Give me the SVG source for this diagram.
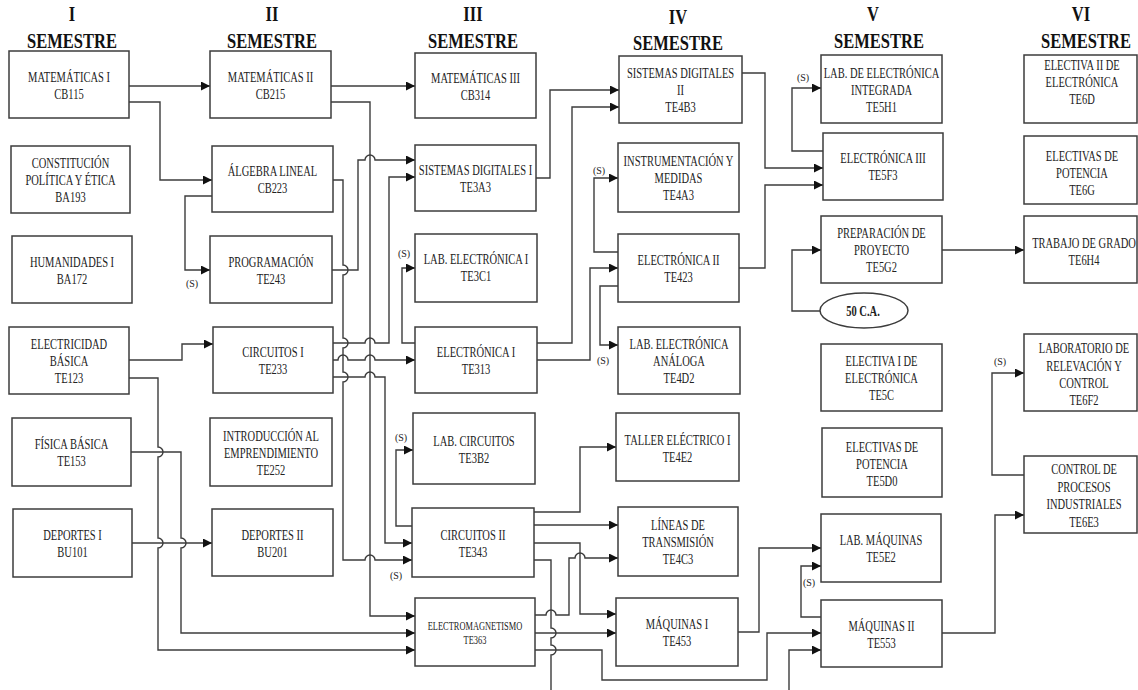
<svg xmlns="http://www.w3.org/2000/svg" width="1138" height="690" viewBox="0 0 1138 690">
<style>
.box{fill:#fff;stroke:#3c3c3c;stroke-width:1.5}
.t{font-family:"Liberation Serif","Times New Roman",serif;font-size:14px;fill:#222;text-anchor:middle}
.h{font-size:22px;font-weight:bold;fill:#111}
.sm{font-size:12px}
.b{font-weight:bold}
.s{font-family:"Liberation Serif","Times New Roman",serif;font-size:10px;fill:#222;text-anchor:middle}
.c{fill:none;stroke:#3c3c3c;stroke-width:1.4}
.a{marker-end:url(#ar)}
</style>
<defs>
<marker id="ar" markerWidth="9" markerHeight="9" refX="9" refY="4.5" orient="auto" markerUnits="userSpaceOnUse"><path d="M0,0 L9,4.5 L0,9 z" fill="#111"/></marker>
</defs>
<rect width="1138" height="690" fill="#fff"/>

<g id="headers" class="t h">
<g transform="translate(72,0) scale(0.75,1)"><text x="0" y="21">I</text><text x="0" y="48">SEMESTRE</text></g>
<g transform="translate(272,0) scale(0.75,1)"><text x="0" y="21">II</text><text x="0" y="48">SEMESTRE</text></g>
<g transform="translate(473,0) scale(0.75,1)"><text x="0" y="21">III</text><text x="0" y="48">SEMESTRE</text></g>
<g transform="translate(678,0) scale(0.75,1)"><text x="0" y="24">IV</text><text x="0" y="50">SEMESTRE</text></g>
<g transform="translate(873,0) scale(0.75,1)"><text x="0" y="21">V</text></g>
<g transform="translate(879,0) scale(0.75,1)"><text x="0" y="48">SEMESTRE</text></g>
<g transform="translate(1081,0) scale(0.75,1)"><text x="0" y="21">VI</text></g>
<g transform="translate(1086,0) scale(0.75,1)"><text x="0" y="48">SEMESTRE</text></g>
</g>

<g id="connectors">
<path class="c a" d="M129,86 H210"/>
<path class="c a" d="M129,102 H160 V180 H212"/>
<path class="c a" d="M212,196 H185 V270 H210"/>
<path class="c a" d="M331,86 H415"/>
<path class="c a" d="M331,102 H370 V616 H415"/>
<path class="c a" d="M333,180 H343 V265 a5,5 0 0 1 0,10 V338 a5,5 0 0 1 0,10 V372 a5,5 0 0 1 0,10 V560 H365 a5,5 0 0 1 10,0 H412"/>
<path class="c a" d="M332,270 H358 V160 H365 a5,5 0 0 1 10,0 H415"/>
<path class="c a" d="M333,343 H365 a5,5 0 0 1 10,0 H389 V177 H415"/>
<path class="c a" d="M333,360 H338 a5,5 0 0 1 10,0 H365 a5,5 0 0 1 10,0 H415"/>
<path class="c a" d="M333,377 H365 a5,5 0 0 1 10,0 H385 V543 H412"/>
<path class="c a" d="M129,360 H182 V344 H213"/>
<path class="c a" d="M129,378 H158 V447 a5,5 0 0 1 0,10 V538 a5,5 0 0 1 0,10 V650 H415"/>
<path class="c a" d="M131,452 H181 V538 a5,5 0 0 1 0,10 V633 H415"/>
<path class="c a" d="M132,543 H212"/>
<path class="c a" d="M415,343 H402 V268 H415"/>
<path class="c a" d="M412,526 H396 V450 H413"/>
<path class="c a" d="M536,178 H550 V90 H619"/>
<path class="c a" d="M537,343 H572 V107 H619"/>
<path class="c a" d="M537,360 H590 V268 H618"/>
<path class="c a" d="M618,252 H594 V178 H618"/>
<path class="c a" d="M618,286 H600 V345 H618"/>
<path class="c a" d="M534,512 H580 V447 H616"/>
<path class="c a" d="M534,525 H618"/>
<path class="c a" d="M534,543 H580 V614 H616"/>
<path class="c" d="M534,560 H551 V628 a5,5 0 0 1 0,10 V645 a5,5 0 0 1 0,10 V690"/>
<path class="c a" d="M535,615 H546 a5,5 0 0 1 10,0 H569 V558 H575 a5,5 0 0 1 10,0 H618"/>
<path class="c a" d="M535,633 H616"/>
<path class="c a" d="M535,650 H602 V680 H767 V633 H821"/>
<path class="c a" d="M742,73 H765 V168 H823"/>
<path class="c a" d="M739,268 H765 V185 H823"/>
<path class="c a" d="M823,151 H792 V88 H821"/>
<path class="c a" d="M820,311 H792 V250 H821"/>
<path class="c a" d="M942,250 H1024"/>
<path class="c a" d="M738,632 H759 V548 H821"/>
<path class="c a" d="M821,617 H801 V566 H821"/>
<path class="c a" d="M789,690 V650 H821"/>
<path class="c a" d="M942,633 H995 V515 H1024"/>
<path class="c a" d="M1024,475 H992 V373 H1024"/>
</g>

<g id="s-labels" class="s">
<text x="192" y="287">(S)</text>
<text x="404" y="257">(S)</text>
<text x="599" y="174">(S)</text>
<text x="603" y="364">(S)</text>
<text x="401" y="441">(S)</text>
<text x="396" y="579">(S)</text>
<text x="803" y="81">(S)</text>
<text x="809" y="586">(S)</text>
<text x="1000" y="365">(S)</text>
</g>

<g id="n-cb115"><rect class="box" x="9" y="51" width="120" height="67"/><g class="t" transform="translate(69,0) scale(0.75,1)"><text x="0" y="82">MATEMÁTICAS I</text><text x="0" y="99">CB115</text></g></g>
<g id="n-ba193"><rect class="box" x="11" y="146" width="119" height="67"/><g class="t" transform="translate(70.5,0) scale(0.75,1)"><text x="0" y="168.5">CONSTITUCIÓN</text><text x="0" y="185.5">POLÍTICA Y ÉTICA</text><text x="0" y="202.5">BA193</text></g></g>
<g id="n-ba172"><rect class="box" x="12" y="236" width="120" height="67"/><g class="t" transform="translate(72,0) scale(0.75,1)"><text x="0" y="267">HUMANIDADES I</text><text x="0" y="284">BA172</text></g></g>
<g id="n-te123"><rect class="box" x="9" y="327" width="120" height="67"/><g class="t" transform="translate(69,0) scale(0.75,1)"><text x="0" y="349.5">ELECTRICIDAD</text><text x="0" y="366.5">BÁSICA</text><text x="0" y="383.5">TE123</text></g></g>
<g id="n-te153"><rect class="box" x="12" y="418" width="119" height="68"/><g class="t" transform="translate(71.5,0) scale(0.75,1)"><text x="0" y="449.5">FÍSICA BÁSICA</text><text x="0" y="466.5">TE153</text></g></g>
<g id="n-bu101"><rect class="box" x="13" y="509" width="119" height="68"/><g class="t" transform="translate(72.5,0) scale(0.75,1)"><text x="0" y="540.5">DEPORTES I</text><text x="0" y="557.5">BU101</text></g></g>

<g id="n-cb215"><rect class="box" x="210" y="51" width="121" height="67"/><g class="t" transform="translate(270.5,0) scale(0.75,1)"><text x="0" y="82">MATEMÁTICAS II</text><text x="0" y="99">CB215</text></g></g>
<g id="n-cb223"><rect class="box" x="212" y="146" width="121" height="66"/><g class="t" transform="translate(272.5,0) scale(0.75,1)"><text x="0" y="176.5">ÁLGEBRA LINEAL</text><text x="0" y="193.5">CB223</text></g></g>
<g id="n-te243"><rect class="box" x="210" y="236" width="122" height="67"/><g class="t" transform="translate(271,0) scale(0.75,1)"><text x="0" y="267">PROGRAMACIÓN</text><text x="0" y="284">TE243</text></g></g>
<g id="n-te233"><rect class="box" x="213" y="327" width="120" height="66"/><g class="t" transform="translate(273,0) scale(0.75,1)"><text x="0" y="357.5">CIRCUITOS I</text><text x="0" y="374.5">TE233</text></g></g>
<g id="n-te252"><rect class="box" x="210" y="418" width="122" height="68"/><g class="t" transform="translate(271,0) scale(0.75,1)"><text x="0" y="441">INTRODUCCIÓN AL</text><text x="0" y="458">EMPRENDIMIENTO</text><text x="0" y="475">TE252</text></g></g>
<g id="n-bu201"><rect class="box" x="212" y="509" width="121" height="67"/><g class="t" transform="translate(272.5,0) scale(0.75,1)"><text x="0" y="540">DEPORTES II</text><text x="0" y="557">BU201</text></g></g>

<g id="n-cb314"><rect class="box" x="415" y="53" width="121" height="65"/><g class="t" transform="translate(475.5,0) scale(0.75,1)"><text x="0" y="83">MATEMÁTICAS III</text><text x="0" y="100">CB314</text></g></g>
<g id="n-te3a3"><rect class="box" x="415" y="145" width="121" height="66"/><g class="t" transform="translate(475.5,0) scale(0.75,1)"><text x="0" y="175.5">SISTEMAS DIGITALES I</text><text x="0" y="192.5">TE3A3</text></g></g>
<g id="n-te3c1"><rect class="box" x="415" y="234" width="122" height="68"/><g class="t" transform="translate(476,0) scale(0.75,1)"><text x="0" y="264.5">LAB. ELECTRÓNICA I</text><text x="0" y="281.5">TE3C1</text></g></g>
<g id="n-te313"><rect class="box" x="415" y="327" width="122" height="66"/><g class="t" transform="translate(476,0) scale(0.75,1)"><text x="0" y="357.5">ELECTRÓNICA I</text><text x="0" y="374.5">TE313</text></g></g>
<g id="n-te3b2"><rect class="box" x="413" y="413" width="122" height="71"/><g class="t" transform="translate(474,0) scale(0.75,1)"><text x="0" y="446">LAB. CIRCUITOS</text><text x="0" y="463">TE3B2</text></g></g>
<g id="n-te343"><rect class="box" x="412" y="508" width="122" height="69"/><g class="t" transform="translate(473,0) scale(0.75,1)"><text x="0" y="540">CIRCUITOS II</text><text x="0" y="557">TE343</text></g></g>
<g id="n-te363"><rect class="box" x="415" y="598" width="120" height="68"/><g class="t sm" transform="translate(475,0) scale(0.7,1)"><text x="0" y="630">ELECTROMAGNETISMO</text><text x="0" y="644">TE363</text></g></g>

<g id="n-te4b3"><rect class="box" x="619" y="56" width="123" height="67"/><g class="t" transform="translate(680.5,0) scale(0.75,1)"><text x="0" y="78.5">SISTEMAS DIGITALES</text><text x="0" y="95.5">II</text><text x="0" y="112.5">TE4B3</text></g></g>
<g id="n-te4a3"><rect class="box" x="618" y="143" width="121" height="69"/><g class="t" transform="translate(678.5,0) scale(0.75,1)"><text x="0" y="166.5">INSTRUMENTACIÓN Y</text><text x="0" y="183.5">MEDIDAS</text><text x="0" y="200.5">TE4A3</text></g></g>
<g id="n-te423"><rect class="box" x="618" y="234" width="121" height="68"/><g class="t" transform="translate(678.5,0) scale(0.75,1)"><text x="0" y="265.5">ELECTRÓNICA II</text><text x="0" y="282.5">TE423</text></g></g>
<g id="n-te4d2"><rect class="box" x="618" y="327" width="122" height="67"/><g class="t" transform="translate(679,0) scale(0.75,1)"><text x="0" y="349.5">LAB. ELECTRÓNICA</text><text x="0" y="366.5">ANÁLOGA</text><text x="0" y="383.5">TE4D2</text></g></g>
<g id="n-te4e2"><rect class="box" x="616" y="413" width="123" height="68"/><g class="t" transform="translate(677.5,0) scale(0.75,1)"><text x="0" y="445">TALLER ELÉCTRICO I</text><text x="0" y="462">TE4E2</text></g></g>
<g id="n-te4c3"><rect class="box" x="618" y="507" width="120" height="69"/><g class="t" transform="translate(678,0) scale(0.75,1)"><text x="0" y="530">LÍNEAS DE</text><text x="0" y="547">TRANSMISIÓN</text><text x="0" y="564">TE4C3</text></g></g>
<g id="n-te453"><rect class="box" x="616" y="598" width="122" height="68"/><g class="t" transform="translate(677,0) scale(0.75,1)"><text x="0" y="629.5">MÁQUINAS I</text><text x="0" y="646.5">TE453</text></g></g>

<g id="n-te5h1"><rect class="box" x="821" y="55" width="121" height="68"/><g class="t" transform="translate(881.5,0) scale(0.75,1)"><text x="0" y="78">LAB. DE ELECTRÓNICA</text><text x="0" y="95">INTEGRADA</text><text x="0" y="112">TE5H1</text></g></g>
<g id="n-te5f3"><rect class="box" x="823" y="133" width="120" height="67"/><g class="t" transform="translate(883,0) scale(0.75,1)"><text x="0" y="163">ELECTRÓNICA III</text><text x="0" y="180">TE5F3</text></g></g>
<g id="n-te5g2"><rect class="box" x="821" y="216" width="121" height="67"/><g class="t" transform="translate(881.5,0) scale(0.75,1)"><text x="0" y="238.5">PREPARACIÓN DE</text><text x="0" y="255.5">PROYECTO</text><text x="0" y="272.5">TE5G2</text></g></g>
<g id="n-50ca"><ellipse class="box" cx="864" cy="310.5" rx="44" ry="17.5"/><g class="t b" transform="translate(863,0) scale(0.75,1)"><text x="0" y="316">50 C.A.</text></g></g>
<g id="n-te5c"><rect class="box" x="821" y="344" width="121" height="67"/><g class="t" transform="translate(881.5,0) scale(0.75,1)"><text x="0" y="366.5">ELECTIVA I DE</text><text x="0" y="383.5">ELECTRÓNICA</text><text x="0" y="400.5">TE5C</text></g></g>
<g id="n-te5d0"><rect class="box" x="822" y="428" width="120" height="69"/><g class="t" transform="translate(882,0) scale(0.75,1)"><text x="0" y="452">ELECTIVAS DE</text><text x="0" y="469">POTENCIA</text><text x="0" y="486">TE5D0</text></g></g>
<g id="n-te5e2"><rect class="box" x="821" y="514" width="120" height="68"/><g class="t" transform="translate(881,0) scale(0.75,1)"><text x="0" y="545.5">LAB. MÁQUINAS</text><text x="0" y="562.5">TE5E2</text></g></g>
<g id="n-te553"><rect class="box" x="821" y="600" width="121" height="67"/><g class="t" transform="translate(881.5,0) scale(0.75,1)"><text x="0" y="631.5">MÁQUINAS II</text><text x="0" y="648.5">TE553</text></g></g>

<g id="n-te6d"><rect class="box" x="1024" y="55" width="113" height="68"/><g class="t" transform="translate(1082,0) scale(0.75,1)"><text x="0" y="70">ELECTIVA II DE</text><text x="0" y="87">ELECTRÓNICA</text><text x="0" y="104">TE6D</text></g></g>
<g id="n-te6g"><rect class="box" x="1024" y="136" width="113" height="68"/><g class="t" transform="translate(1082,0) scale(0.75,1)"><text x="0" y="161">ELECTIVAS DE</text><text x="0" y="178">POTENCIA</text><text x="0" y="195">TE6G</text></g></g>
<g id="n-te6h4"><rect class="box" x="1024" y="216" width="113" height="67"/><g class="t" transform="translate(1084,0) scale(0.75,1)"><text x="0" y="248">TRABAJO DE GRADO</text><text x="0" y="265">TE6H4</text></g></g>
<g id="n-te6f2"><rect class="box" x="1024" y="334" width="113" height="77"/><g class="t" transform="translate(1084,0) scale(0.75,1)"><text x="0" y="353">LABORATORIO DE</text><text x="0" y="371">RELEVACIÓN Y</text><text x="0" y="388">CONTROL</text><text x="0" y="405">TE6F2</text></g></g>
<g id="n-te6e3"><rect class="box" x="1024" y="456" width="113" height="77"/><g class="t" transform="translate(1084,0) scale(0.75,1)"><text x="0" y="474">CONTROL DE</text><text x="0" y="492">PROCESOS</text><text x="0" y="509">INDUSTRIALES</text><text x="0" y="527">TE6E3</text></g></g>
</svg>
